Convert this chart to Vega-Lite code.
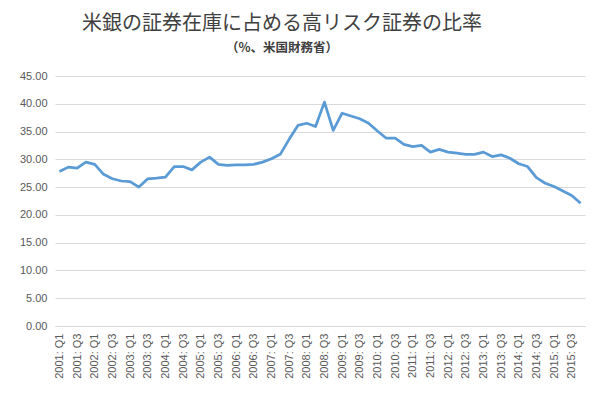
{
  "$schema": "https://vega.github.io/schema/vega-lite/v6.json",
  "autosize": {"type": "none"},
  "width": 530,
  "height": 250,
  "padding": {"left": 55, "top": 76, "right": 19, "bottom": 70},
  "background": "white",
  "title": {
    "text": "米銀の証券在庫に占める高リスク証券の比率",
    "subtitle": "（%、米国財務省）",
    "anchor": "middle",
    "dx": -38,
    "offset": 16,
    "font": "Noto Sans CJK JP",
    "fontSize": 20,
    "fontWeight": "normal",
    "color": "#404040",
    "subtitleFont": "Noto Sans CJK JP",
    "subtitleFontSize": 12.5,
    "subtitleFontWeight": "bold",
    "subtitleColor": "#404040",
    "subtitlePadding": 8
  },
  "config": {
    "view": {"stroke": null},
    "axis": {"labelFont": "Liberation Sans", "labelFontSize": 11, "labelColor": "#595959"}
  },
  "data": {
    "values": [
      {"q": "2001: Q1", "v": 27.8}, {"q": "2001: Q2", "v": 28.6}, {"q": "2001: Q3", "v": 28.4}, {"q": "2001: Q4", "v": 29.5},
      {"q": "2002: Q1", "v": 29.1}, {"q": "2002: Q2", "v": 27.3}, {"q": "2002: Q3", "v": 26.5}, {"q": "2002: Q4", "v": 26.1},
      {"q": "2003: Q1", "v": 26.0}, {"q": "2003: Q2", "v": 25.0}, {"q": "2003: Q3", "v": 26.5}, {"q": "2003: Q4", "v": 26.6},
      {"q": "2004: Q1", "v": 26.8}, {"q": "2004: Q2", "v": 28.7}, {"q": "2004: Q3", "v": 28.7}, {"q": "2004: Q4", "v": 28.1},
      {"q": "2005: Q1", "v": 29.5}, {"q": "2005: Q2", "v": 30.4}, {"q": "2005: Q3", "v": 29.1}, {"q": "2005: Q4", "v": 28.9},
      {"q": "2006: Q1", "v": 29.0}, {"q": "2006: Q2", "v": 29.0}, {"q": "2006: Q3", "v": 29.1}, {"q": "2006: Q4", "v": 29.5},
      {"q": "2007: Q1", "v": 30.1}, {"q": "2007: Q2", "v": 30.9}, {"q": "2007: Q3", "v": 33.6}, {"q": "2007: Q4", "v": 36.1},
      {"q": "2008: Q1", "v": 36.5}, {"q": "2008: Q2", "v": 35.9}, {"q": "2008: Q3", "v": 40.3}, {"q": "2008: Q4", "v": 35.2},
      {"q": "2009: Q1", "v": 38.3}, {"q": "2009: Q2", "v": 37.8}, {"q": "2009: Q3", "v": 37.3}, {"q": "2009: Q4", "v": 36.5},
      {"q": "2010: Q1", "v": 35.1}, {"q": "2010: Q2", "v": 33.8}, {"q": "2010: Q3", "v": 33.8}, {"q": "2010: Q4", "v": 32.7},
      {"q": "2011: Q1", "v": 32.3}, {"q": "2011: Q2", "v": 32.5}, {"q": "2011: Q3", "v": 31.3}, {"q": "2011: Q4", "v": 31.8},
      {"q": "2012: Q1", "v": 31.3}, {"q": "2012: Q2", "v": 31.1}, {"q": "2012: Q3", "v": 30.9}, {"q": "2012: Q4", "v": 30.9},
      {"q": "2013: Q1", "v": 31.3}, {"q": "2013: Q2", "v": 30.5}, {"q": "2013: Q3", "v": 30.8}, {"q": "2013: Q4", "v": 30.2},
      {"q": "2014: Q1", "v": 29.2}, {"q": "2014: Q2", "v": 28.7}, {"q": "2014: Q3", "v": 26.7}, {"q": "2014: Q4", "v": 25.7},
      {"q": "2015: Q1", "v": 25.1}, {"q": "2015: Q2", "v": 24.3}, {"q": "2015: Q3", "v": 23.5}, {"q": "2015: Q4", "v": 22.1}
    ]
  },
  "mark": {"type": "line", "color": "#5B9BD5", "strokeWidth": 2.75, "strokeJoin": "round"},
  "encoding": {
    "x": {
      "field": "q", "type": "ordinal", "sort": null, "title": null,
      "scale": {"type": "point", "padding": 0.5},
      "axis": {
        "labelAngle": -90, "ticks": false, "domain": true, "domainColor": "#D9D9D9",
        "labelOverlap": false, "labelPadding": 7,
        "labelExpr": "test(/Q[13]$/, datum.value) ? datum.value : ''"
      }
    },
    "y": {
      "field": "v", "type": "quantitative", "title": null,
      "scale": {"domain": [0, 45], "nice": false},
      "axis": {
        "values": [0, 5, 10, 15, 20, 25, 30, 35, 40, 45], "format": ".2f",
        "grid": true, "gridColor": "#D9D9D9", "domain": false, "ticks": false, "labelPadding": 8
      }
    }
  }
}
